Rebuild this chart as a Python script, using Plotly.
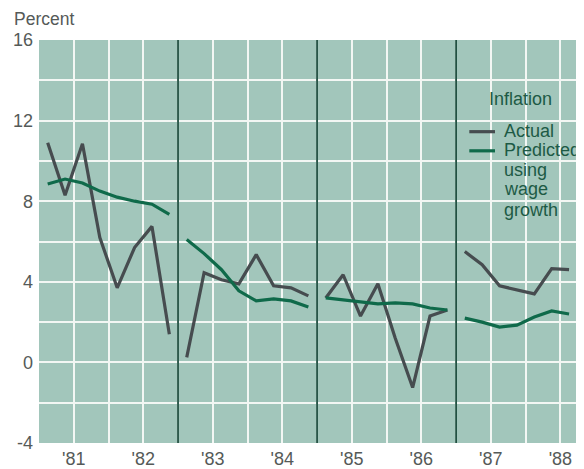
import plotly.graph_objects as go

# ---- data ----
years = [1981, 1982, 1983, 1984, 1985, 1986, 1987, 1988]
year_labels = ["'81", "'82", "'83", "'84", "'85", "'86", "'87", "'88"]

quarters = [
    "1981Q1", "1981Q2", "1981Q3", "1981Q4",
    "1982Q1", "1982Q2", "1982Q3", "1982Q4",
    "1983Q1", "1983Q2", "1983Q3", "1983Q4",
    "1984Q1", "1984Q2", "1984Q3", "1984Q4",
    "1985Q1", "1985Q2", "1985Q3", "1985Q4",
    "1986Q1", "1986Q2", "1986Q3", "1986Q4",
    "1987Q1", "1987Q2", "1987Q3", "1987Q4",
    "1988Q1", "1988Q2", "1988Q3",
]
actual = [
    10.9, 8.3, 10.85, 6.2,
    3.7, 5.7, 6.75, 1.4,
    0.25, 4.45, 4.1, 3.9,
    5.35, 3.8, 3.7, 3.3,
    3.2, 4.35, 2.3, 3.9,
    1.2, -1.25, 2.3, 2.6,
    5.5, 4.85, 3.8, 3.6,
    3.4, 4.65, 4.6,
]
predicted = [
    8.85, 9.1, 8.9, 8.5,
    8.2, 8.0, 7.85, 7.35,
    6.1, 5.4, 4.6, 3.55,
    3.05, 3.15, 3.05, 2.75,
    3.2, 3.1, 3.0, 2.9,
    2.95, 2.9, 2.7, 2.6,
    2.2, 2.0, 1.75, 1.85,
    2.25, 2.55, 2.4,
]
period_starts = [1981, 1983, 1985, 1987]   # separate two-year panels
y_ticks = [-4, 0, 4, 8, 12, 16]

# ---- styling ----
BG = "#a2c6bb"
GRID = "#f3f7f4"
DIVIDER = "#1f4f40"
ACTUAL_C = "#464c4f"
PRED_C = "#0f6a4a"
TEXT_C = "#555a58"
LEG_C = "#1d5a45"
FONT = "Liberation Sans, Arial, sans-serif"
FS = 18


def qpos(q):
    y = int(q[:4]); n = int(q[-1])
    return y + (n - 0.5) / 4.0


xs = [qpos(q) for q in quarters]

fig = go.Figure()
for name, vals, col in [("Actual", actual, ACTUAL_C), ("Predicted using wage growth", predicted, PRED_C)]:
    for ps in period_starts:
        idx = [i for i, q in enumerate(quarters) if ps <= int(q[:4]) < ps + 2]
        fig.add_trace(go.Scatter(
            x=[xs[i] for i in idx], y=[vals[i] for i in idx],
            mode="lines", name=name, showlegend=False,
            line=dict(color=col, width=3.2),
            hoverinfo="skip",
        ))

# vertical dividers between panels
for ps in period_starts[1:]:
    fig.add_shape(type="line", xref="x", yref="paper", x0=ps, x1=ps, y0=0, y1=1,
                  line=dict(color=DIVIDER, width=1.8), layer="above")

# x ticks: gridlines every half-year, labels at mid-year
tickvals, ticktext = [], []
for y, lab in zip(years, year_labels):
    tickvals += [y, y + 0.5]
    ticktext += ["", lab]
tickvals.append(1989)
ticktext.append("")

# custom legend
leg_x0, leg_x1 = 1987.19, 1987.56
fig.add_shape(type="line", xref="x", yref="y", x0=leg_x0, x1=leg_x1, y0=11.45, y1=11.45,
              line=dict(color=ACTUAL_C, width=3.2))
fig.add_shape(type="line", xref="x", yref="y", x0=leg_x0, x1=leg_x1, y0=10.5, y1=10.5,
              line=dict(color=PRED_C, width=3.2))
legend_text = [
    ("Inflation", 1987.45, 13.05),
    ("Actual", 1987.66, 11.5),
    ("Predicted", 1987.66, 10.55),
    ("using", 1987.66, 9.55),
    ("wage", 1987.66, 8.6),
    ("growth", 1987.66, 7.55),
]
for t, x, y in legend_text:
    fig.add_annotation(text=t, x=x, y=y, xref="x", yref="y", xanchor="left", yanchor="middle",
                       showarrow=False, font=dict(size=FS, color=LEG_C, family=FONT))

fig.add_annotation(text="Percent", xref="paper", yref="paper", x=-0.05, y=1.053,
                   xanchor="left", yanchor="middle", showarrow=False,
                   font=dict(size=17.5, color=TEXT_C, family=FONT))

# page body adds an 8px margin, so the figure is 8px smaller than the window
fig.update_layout(
    width=576, height=461,
    margin=dict(l=31, r=0, t=31.5, b=26),
    paper_bgcolor="white", plot_bgcolor=BG,
    font=dict(family=FONT, size=FS, color=TEXT_C),
    showlegend=False,
    xaxis=dict(range=[1981, 1988.84], tickmode="array", tickvals=tickvals, ticktext=ticktext,
               showgrid=True, gridcolor=GRID, gridwidth=2, zeroline=False, showline=False,
               ticks="", ticklabelstandoff=3, tickfont=dict(size=FS, color=TEXT_C),
               fixedrange=True, automargin=False),
    yaxis=dict(range=[-4, 16], tickmode="array", tickvals=list(range(-4, 17, 2)),
               ticktext=[str(v) if v in y_ticks else "" for v in range(-4, 17, 2)],
               showgrid=True, gridcolor=GRID, gridwidth=2, zeroline=False, showline=False,
               ticks="", ticklabelstandoff=5, tickfont=dict(size=FS, color=TEXT_C),
               fixedrange=True, automargin=False),
)

fig.write_html("out.html")
